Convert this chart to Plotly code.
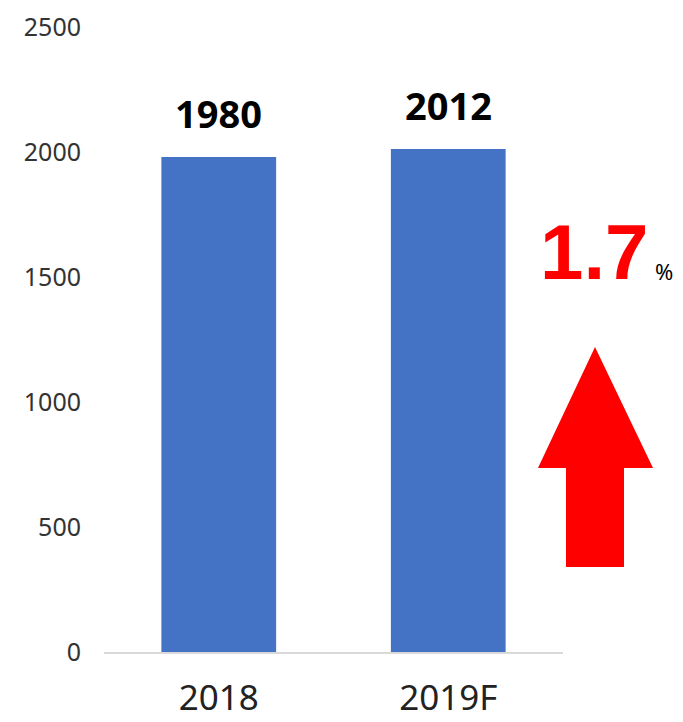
import plotly.graph_objects as go

categories = ["2018", "2019F"]
values = [1980, 2012]
growth_label = "1.7"
growth_unit = "%"
y_ticks = [0, 500, 1000, 1500, 2000, 2500]

L, R, T, B = 104, 120, 27, 70
W, H = 683, 722
pw, ph = W - L - R, H - T - B

def px(x):
    return (x - L) / pw

def py(y):
    return (H - B - y) / ph

fig = go.Figure()
fig.add_trace(go.Bar(
    x=categories, y=values,
    marker=dict(color="#4472C4", line=dict(width=0)),
    hoverinfo="skip",
))

for i, v in enumerate(values):
    fig.add_annotation(
        x=i, y=v, text=f"<b>{v}</b>", showarrow=False,
        yanchor="bottom", yshift=16,
        font=dict(size=38, color="#000000", family="Noto Sans"),
    )

# growth text
fig.add_annotation(
    xref="paper", yref="paper", x=px(594), y=py(252),
    text=f"<b>{growth_label}</b>", showarrow=False,
    xanchor="center", yanchor="middle",
    font=dict(size=78, color="#FF0000", family="Liberation Sans"),
)
fig.add_annotation(
    xref="paper", yref="paper", x=px(664), y=py(271),
    text=growth_unit, showarrow=False,
    xanchor="center", yanchor="middle",
    font=dict(size=22, color="#000000", family="Noto Sans"),
)

# up arrow
pts = [(595, 347), (653, 468), (624, 468), (624, 567), (566, 567), (566, 468), (538, 468)]
path = "M " + " L ".join(f"{px(a):.4f},{py(b):.4f}" for a, b in pts) + " Z"
fig.add_shape(type="path", xref="paper", yref="paper", path=path,
              fillcolor="#FF0000", line=dict(width=0))

fig.update_layout(
    width=W, height=H,
    margin=dict(l=L, r=R, t=T, b=B),
    paper_bgcolor="white", plot_bgcolor="white",
    bargap=0.5, showlegend=False,
    font=dict(family="Noto Sans", color="#333333"),
)
fig.update_xaxes(
    type="category", range=[-0.5, 1.5], automargin=False,
    showline=True, linecolor="#D9D9D9", linewidth=1.5,
    showgrid=False, ticks="",
    tickfont=dict(size=35, color="#222222"),
    ticklabelstandoff=14,
)
fig.update_yaxes(
    range=[0, 2500], tickvals=y_ticks, showgrid=False, zeroline=False,
    showline=False, ticks="", automargin=False,
    tickfont=dict(size=25, color="#333333"),
    ticklabelstandoff=22,
)

fig.write_html(
    "out.html",
    config={"displayModeBar": False},
    post_script="document.body.style.margin='0';document.body.style.overflow='hidden';",
)
